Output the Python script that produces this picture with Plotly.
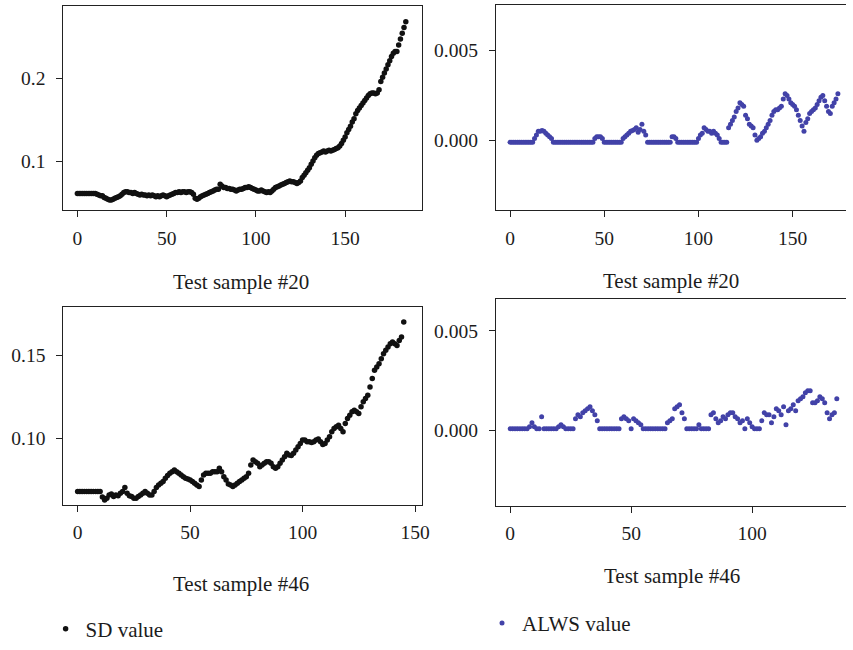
import plotly.graph_objects as go

W, H = 853, 650

# ---------------- data ----------------
sd_20 = [
    0.061, 0.061, 0.061, 0.061, 0.061, 0.061, 0.061, 0.061, 0.061, 0.061,
    0.061, 0.060, 0.059, 0.058, 0.058, 0.056, 0.055, 0.054, 0.053, 0.053,
    0.054, 0.055, 0.056, 0.057, 0.058, 0.060, 0.062, 0.063, 0.063, 0.062,
    0.062, 0.061, 0.062, 0.061, 0.060, 0.059, 0.060, 0.059, 0.059, 0.058,
    0.059, 0.058, 0.059, 0.058, 0.057, 0.058, 0.057, 0.058, 0.059, 0.058,
    0.057, 0.058, 0.059, 0.060, 0.061, 0.062, 0.062, 0.063, 0.062, 0.063,
    0.063, 0.062, 0.063, 0.063, 0.062, 0.060, 0.055, 0.054, 0.055, 0.057,
    0.058, 0.059, 0.060, 0.061, 0.062, 0.063, 0.064, 0.065, 0.066, 0.066,
    0.072, 0.070, 0.068, 0.068, 0.067, 0.067, 0.066, 0.066, 0.065, 0.064,
    0.065, 0.066, 0.066, 0.067, 0.068, 0.068, 0.069, 0.068, 0.067, 0.066,
    0.065, 0.064, 0.064, 0.065, 0.064, 0.063, 0.062, 0.063, 0.062, 0.064,
    0.066, 0.068, 0.069, 0.070, 0.071, 0.072, 0.073, 0.074, 0.075, 0.076,
    0.075, 0.075, 0.074, 0.073, 0.074, 0.076, 0.080, 0.083, 0.086, 0.089,
    0.092, 0.096, 0.100, 0.104, 0.107, 0.109, 0.110, 0.111, 0.112, 0.111,
    0.112, 0.113, 0.112, 0.113, 0.114, 0.115, 0.116, 0.118, 0.121, 0.125,
    0.129, 0.134, 0.138, 0.142, 0.147, 0.151, 0.157, 0.161, 0.164, 0.167,
    0.170, 0.173, 0.176, 0.179, 0.181, 0.182, 0.182, 0.181, 0.182, 0.186,
    0.196, 0.201, 0.206, 0.211, 0.216, 0.221, 0.226, 0.230, 0.232, 0.232,
    0.240, 0.247, 0.254, 0.261, 0.268,
]

alws_20 = [
    -0.0001, -0.0001, -0.0001, -0.0001, -0.0001, -0.0001, -0.0001, -0.0001, -0.0001, -0.0001,
    -0.0001, -0.0001, -0.0001, 0.0001, 0.0003, 0.0005, 0.0005, 0.00055, 0.0005, 0.0004,
    0.0003, 0.0002, 0.0001, -0.0001, -0.0001, -0.0001, -0.0001, -0.0001, -0.0001, -0.0001,
    -0.0001, -0.0001, -0.0001, -0.0001, -0.0001, -0.0001, -0.0001, -0.0001, -0.0001, -0.0001,
    -0.0001, -0.0001, -0.0001, -0.0001, -0.0001, 0.0001, 0.0002, 0.0002, 0.0002, 0.0001,
    -0.0001, -0.0001, -0.0001, -0.0001, -0.0001, -0.0001, -0.0001, -0.0001, -0.0001, -0.0001,
    0.0001, 0.0002, 0.0003, 0.0004, 0.0005, 0.00055, 0.0006, 0.0007, 0.00045, 0.0006,
    0.0009, 0.0005, 0.0003, -0.0001, -0.0001, -0.0001, -0.0001, -0.0001, -0.0001, -0.0001,
    -0.0001, -0.0001, -0.0001, -0.0001, -0.0001, -0.0001, 0.0002, 0.0002, 0.0001, -0.0001,
    -0.0001, -0.0001, -0.0001, -0.0001, -0.0001, -0.0001, -0.0001, -0.0001, -0.0001, -0.0001,
    0.0001, 0.0003, 0.0004, 0.0007, 0.0006, 0.0005, 0.0005, 0.0004, 0.0005, 0.0004,
    0.0003, 0.0001, -0.0001, -0.0001, -0.0001, -0.0001, 0.0007, 0.0009, 0.0011, 0.0013,
    0.0016, 0.0018, 0.0021, 0.0020, 0.0019, 0.0014, 0.0012, 0.0009, 0.0008, 0.0007,
    0.0003, 0.0000, 0.0001, 0.0002, 0.0004, 0.0005, 0.0007, 0.0009, 0.0011, 0.0014,
    0.0016, 0.0017, 0.0017, 0.0018, 0.0019, 0.0023, 0.0026, 0.0025, 0.0023, 0.0021,
    0.0020, 0.0019, 0.0017, 0.0014, 0.0011, 0.0008, 0.0005, 0.0010, 0.0012, 0.0015,
    0.0016, 0.0017, 0.0018, 0.0020, 0.0022, 0.0024, 0.0025, 0.0022, 0.0019, 0.0016,
    0.0015, 0.0019, 0.0021, 0.0023, 0.0026,
]

sd_46 = [
    0.068, 0.068, 0.068, 0.068, 0.068, 0.068, 0.068, 0.068, 0.068, 0.068,
    0.068, 0.0647, 0.063, 0.064, 0.066, 0.0665, 0.065, 0.066, 0.0655, 0.067,
    0.068, 0.0705, 0.067, 0.0655, 0.065, 0.064, 0.064, 0.065, 0.066, 0.067,
    0.068, 0.067, 0.066, 0.066, 0.068, 0.0705, 0.072, 0.073, 0.074, 0.076,
    0.0777, 0.079, 0.080, 0.081, 0.080, 0.079, 0.078, 0.077, 0.076, 0.0756,
    0.075, 0.074, 0.073, 0.072, 0.071, 0.075, 0.078, 0.079, 0.079, 0.079,
    0.080, 0.080, 0.080, 0.082, 0.080, 0.077, 0.075, 0.0725, 0.072, 0.071,
    0.072, 0.073, 0.074, 0.075, 0.076, 0.077, 0.079, 0.084, 0.087, 0.086,
    0.085, 0.083, 0.084, 0.085, 0.086, 0.086, 0.085, 0.083, 0.082, 0.083,
    0.085, 0.087, 0.089, 0.091, 0.090, 0.0897, 0.091, 0.093, 0.095, 0.097,
    0.099, 0.099, 0.098, 0.098, 0.0976, 0.098, 0.099, 0.0996, 0.098, 0.0964,
    0.097, 0.099, 0.101, 0.104, 0.106, 0.107, 0.108, 0.106, 0.104, 0.109,
    0.112, 0.114, 0.116, 0.117, 0.116, 0.115, 0.119, 0.122, 0.124, 0.126,
    0.131, 0.136, 0.141, 0.143, 0.145, 0.148, 0.151, 0.153, 0.155, 0.157,
    0.158, 0.157, 0.156, 0.159, 0.161, 0.170,
]

alws_46 = [
    0.0001, 0.0001, 0.0001, 0.0001, 0.0001, 0.0001, 0.0001, 0.0001, 0.0002, 0.0004,
    0.0002, 0.0001, 0.0001, 0.0007, 0.0001, 0.0001, 0.0001, 0.0001, 0.0001, 0.0001,
    0.0002, 0.0003, 0.0002, 0.0001, 0.0001, 0.0001, 0.0001, 0.0006, 0.0008, 0.0007,
    0.0009, 0.0010, 0.0011, 0.0012, 0.0010, 0.0008, 0.0005, 0.0001, 0.0001, 0.0001,
    0.0001, 0.0001, 0.0001, 0.0001, 0.0001, 0.0001, 0.0006, 0.0007, 0.0006, 0.0005,
    0.0001, 0.0006, 0.0005, 0.0004, 0.0003, 0.0001, 0.0001, 0.0001, 0.0001, 0.0001,
    0.0001, 0.0001, 0.0001, 0.0001, 0.0001, 0.0004, 0.0005, 0.0006, 0.0011, 0.0012,
    0.0013, 0.0009, 0.0006, 0.0001, 0.0001, 0.0001, 0.0001, 0.0001, 0.0003, 0.0001,
    0.0001, 0.0001, 0.0001, 0.0008, 0.0009, 0.0006, 0.0004, 0.0005, 0.0007, 0.0006,
    0.0008, 0.0009, 0.0009, 0.0007, 0.0006, 0.0004, 0.0005, 0.0001, 0.0006, 0.0004,
    0.0002, 0.0001, 0.0001, 0.0001, 0.0005, 0.0009, 0.0008, 0.0008, 0.0004, 0.0007,
    0.0011, 0.0010, 0.0008, 0.0012, 0.0003, 0.0010, 0.0011, 0.0013, 0.0010, 0.0015,
    0.0016, 0.0017, 0.0019, 0.0020, 0.0020, 0.0014, 0.0014, 0.0015, 0.0017, 0.0016,
    0.0014, 0.0009, 0.0006, 0.0008, 0.0009, 0.0016,
]

panel_titles = ["Test sample #20", "Test sample #20", "Test sample #46", "Test sample #46"]
legend_names = ["SD value", "ALWS value"]

SD_COLOR = "#111111"
ALWS_COLOR = "#4242a8"
FONT = "Liberation Serif, Times New Roman, serif"
TXT = "#1c1c1c"
TICK_SIZE = 19.5
TEXT_SIZE = 21

fig = go.Figure()

def px_x(a, b):
    return [a / W, b / W]

def px_y(top, bottom):
    return [1 - bottom / H, 1 - top / H]

fig.add_trace(go.Scatter(x=list(range(len(sd_20))), y=sd_20, mode="markers",
                         marker=dict(color=SD_COLOR, size=5.5), name=legend_names[0],
                         xaxis="x", yaxis="y", legend="legend"))
fig.add_trace(go.Scatter(x=list(range(len(alws_20))), y=alws_20, mode="markers",
                         marker=dict(color=ALWS_COLOR, size=5), name=legend_names[1],
                         xaxis="x2", yaxis="y2", legend="legend2"))
fig.add_trace(go.Scatter(x=list(range(len(sd_46))), y=sd_46, mode="markers",
                         marker=dict(color=SD_COLOR, size=5.5), name=legend_names[0],
                         xaxis="x3", yaxis="y3", showlegend=False))
fig.add_trace(go.Scatter(x=list(range(len(alws_46))), y=alws_46, mode="markers",
                         marker=dict(color=ALWS_COLOR, size=5), name=legend_names[1],
                         xaxis="x4", yaxis="y4", showlegend=False))

common = dict(showgrid=False, zeroline=False, showline=True, linecolor="#222",
              linewidth=1.2, ticks="outside", ticklen=6, tickcolor="#222",
              tickfont=dict(family=FONT, size=TICK_SIZE, color=TXT))

def xax(domain, rng, anchor, mirror=True):
    d = dict(common)
    d.update(domain=domain, range=rng, anchor=anchor, tickvals=[0, 50, 100, 150],
             mirror=mirror, ticklabelstandoff=4)
    return d

def yax(domain, rng, anchor, tickvals, fmt, mirror=True):
    d = dict(common)
    d.update(domain=domain, range=rng, anchor=anchor, tickvals=tickvals,
             tickformat=fmt, mirror=mirror, ticklabelstandoff=7)
    return d

fig.update_layout(
    width=W, height=H, margin=dict(l=0, r=0, t=0, b=0),
    plot_bgcolor="white", paper_bgcolor="white",
    font=dict(family=FONT, size=TEXT_SIZE, color=TXT),
    xaxis=xax(px_x(64, 425), [-7.8, 192.8], "y"),
    yaxis=yax(px_y(6, 213), [0.0405, 0.287], "x", [0.1, 0.2], ".1f"),
    xaxis2=xax(px_x(500, 853), [-7.5, 178.3], "y2"),
    yaxis2=yax(px_y(5, 213), [-0.0039, 0.00754], "x2", [0.0, 0.005], ".3f", mirror=False),
    xaxis3=xax(px_x(64, 425.7), [-6.3, 153.2], "y3"),
    yaxis3=yax(px_y(311, 511), [0.0601, 0.179], "x3", [0.10, 0.15], ".2f"),
    xaxis4=xax(px_x(500, 853), [-5.9, 138.8], "y4"),
    yaxis4=yax(px_y(303, 512), [-0.00376, 0.00658], "x4", [0.0, 0.005], ".3f", mirror=False),
    legend=dict(x=46 / W, y=1 - 637 / H, xanchor="left", yanchor="middle",
                bgcolor="rgba(0,0,0,0)", font=dict(family=FONT, size=TEXT_SIZE, color=TXT)),
    legend2=dict(x=486 / W, y=1 - 631 / H, xanchor="left", yanchor="middle",
                 bgcolor="rgba(0,0,0,0)", font=dict(family=FONT, size=TEXT_SIZE, color=TXT)),
)

title_pos = [(242.7, 285.7), (677, 285), (243, 591), (678, 583)]
for t, (cx, cy) in zip(panel_titles, title_pos):
    fig.add_annotation(text=t, x=cx / W, y=1 - cy / H, xref="paper", yref="paper",
                       xanchor="center", yanchor="middle", showarrow=False,
                       font=dict(family=FONT, size=TEXT_SIZE, color=TXT))

fig.write_html("out.html")
